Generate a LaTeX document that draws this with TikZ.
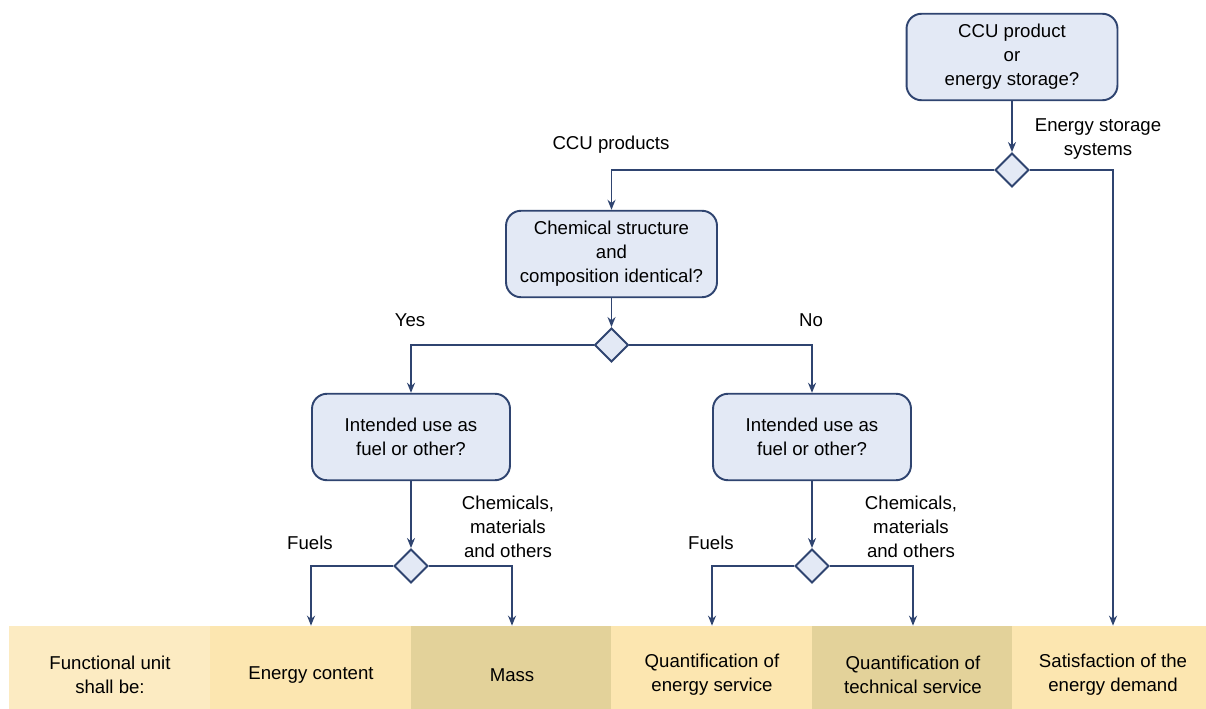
\documentclass[tikz,border=0pt]{standalone}
\usepackage{fontspec}
\setmainfont{Liberation Sans}
\usetikzlibrary{shapes.geometric,arrows.meta}
\definecolor{navy}{HTML}{2F4470}
\definecolor{boxblue}{HTML}{E3E9F5}
\definecolor{unitpale}{HTML}{FCEBC2}
\definecolor{unitlight}{HTML}{FCE6B0}
\definecolor{unitdark}{HTML}{E3D29A}
\begin{document}
\begin{tikzpicture}[x=0.02cm, y=-0.02cm,
    every node/.style={font=\fontsize{10.6}{13.6}\selectfont, align=center, inner sep=0pt},
    question/.style={draw=navy, line width=1.1pt, fill=boxblue, rounded corners=0.3cm, minimum height=1.73cm},
    gate/.style={diamond, draw=navy, line width=1.1pt, fill=boxblue, minimum size=0.68cm},
    unit/.style={minimum width=4.03cm, minimum height=1.96cm},
    arr/.style={draw=navy, line width=1pt, -{Stealth[length=0.2cm, width=0.16cm]}}]
    \useasboundingbox (0,0) rectangle (1206,709);

    % Functional unit row
    \node[unit, fill=unitpale] (u0) at (110,675) {Functional unit\\shall be:};
    \node[unit, fill=unitlight] (u1) at (311,675) {Energy content};
    \node[unit, fill=unitdark] (u2) at (512,675) {Mass};
    \node[unit, fill=unitlight] (u3) at (712,675) {Quantification of\\energy service};
    \node[unit, fill=unitdark] (u4) at (913,675) {Quantification of\\technical service};
    \node[unit, fill=unitlight] (u5) at (1113,675) {Satisfaction of the\\energy demand};

    % Questions
    \node[question, minimum width=4.22cm] (q1) at (1012,57) {CCU product\\or\\energy storage?};
    \node[question, minimum width=4.22cm] (q2) at (611.5,254) {Chemical structure\\and\\composition identical?};
    \node[question, minimum width=3.96cm] (q3) at (411,437) {Intended use as\\fuel or other?};
    \node[question, minimum width=3.96cm] (q4) at (812,437) {Intended use as\\fuel or other?};

    % Decisions
    \node[gate] (d1) at (1012,170) {};
    \node[gate] (d2) at (611.5,345) {};
    \node[gate] (d3) at (411,566) {};
    \node[gate] (d4) at (812,566) {};

    % Branch labels
    \node (l1) at (611,145) {CCU products};
    \node (l2) at (1098,139) {Energy storage\\systems};
    \node (l3) at (410,320) {Yes};
    \node (l4) at (811,320) {No};
    \node (l5) at (310,543) {Fuels};
    \node (l6) at (508,527) {Chemicals,\\materials\\and others};
    \node (l7) at (711,543) {Fuels};
    \node (l8) at (911,527) {Chemicals,\\materials\\and others};

    % Arrows
    \draw[arr] (q1.south) -- (d1.north);
    \draw[arr] (d1.west) -| (q2.north);
    \draw[arr] (d1.east) -| (u5.north);
    \draw[arr] (q2.south) -- (d2.north);
    \draw[arr] (d2.west) -| (q3.north);
    \draw[arr] (d2.east) -| (q4.north);
    \draw[arr] (q3.south) -- (d3.north);
    \draw[arr] (q4.south) -- (d4.north);
    \draw[arr] (d3.west) -| (u1.north);
    \draw[arr] (d3.east) -| (u2.north);
    \draw[arr] (d4.west) -| (u3.north);
    \draw[arr] (d4.east) -| (u4.north);
\end{tikzpicture}
\end{document}
